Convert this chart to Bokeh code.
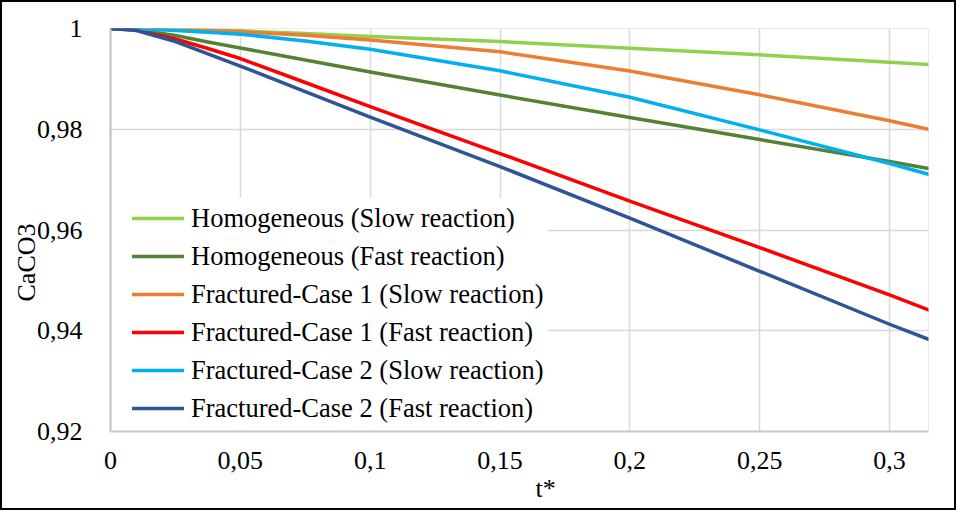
from bokeh.plotting import figure
from bokeh.models import Range1d, FixedTicker, CustomJSTickFormatter, Legend, LegendItem, BoxAnnotation, Title
from bokeh.embed import file_html
from bokeh.resources import INLINE

# ---- data ----
t = [0, 0.01, 0.025, 0.0375, 0.05, 0.075, 0.1, 0.15, 0.2, 0.25, 0.3, 0.315]
homog_slow = [1, 0.99999, 0.99988, 0.99972, 0.99954, 0.99901, 0.99841, 0.99742, 0.99607, 0.99478, 0.99329, 0.99285]
homog_fast = [1, 0.99976, 0.99861, 0.99732, 0.99613, 0.99374, 0.99136, 0.98679, 0.98232, 0.97796, 0.97359, 0.97220]
frac1_slow = [1, 0.99998, 0.99980, 0.99960, 0.99936, 0.99865, 0.99772, 0.99537, 0.99156, 0.98683, 0.98167, 0.98000]
frac1_fast = [1, 0.99968, 0.99791, 0.99603, 0.99404, 0.98928, 0.98451, 0.97518, 0.96574, 0.95651, 0.94711, 0.94413]
frac2_slow = [1, 0.99996, 0.99960, 0.99927, 0.99887, 0.99752, 0.99589, 0.99160, 0.98634, 0.97988, 0.97319, 0.97106]
frac2_fast = [1, 0.99960, 0.99742, 0.99494, 0.99255, 0.98749, 0.98242, 0.97259, 0.96234, 0.95181, 0.94129, 0.93831]

series_names = [
    "Homogeneous (Slow reaction)",
    "Homogeneous (Fast reaction)",
    "Fractured-Case 1 (Slow reaction)",
    "Fractured-Case 1 (Fast reaction)",
    "Fractured-Case 2 (Slow reaction)",
    "Fractured-Case 2 (Fast reaction)",
]
series_values = [homog_slow, homog_fast, frac1_slow, frac1_fast, frac2_slow, frac2_fast]
series_colors = ["#92D050", "#548235", "#ED7D31", "#FF0000", "#00B0F0", "#2F5597"]

x_ticks = [0, 0.05, 0.1, 0.15, 0.2, 0.25, 0.3]
y_ticks = [0.92, 0.94, 0.96, 0.98, 1.0]
x_label = "t*"
y_label = "CaCO3"

FONT = "'Liberation Serif'"
FS = "26px"

p = figure(width=956, height=510, output_backend="svg", toolbar_location=None,
           x_range=Range1d(0, 0.315), y_range=Range1d(0.92, 1.0),
           min_border_left=108, min_border_right=30, min_border_top=26, min_border_bottom=81)
p.styles = {"border": "2px solid #000000"}
p.background_fill_color = "white"
p.border_fill_color = "white"
p.outline_line_color = "#ececec"
p.outline_line_width = 1

fmt = CustomJSTickFormatter(code="""
var s = tick.toFixed(2).replace(/0+$/, '').replace(/\\.$/, '');
return s.replace('.', ',');
""")

for ax in (p.xaxis[0], p.yaxis[0]):
    ax.major_tick_line_color = None
    ax.minor_tick_line_color = None
    ax.major_label_text_font = FONT
    ax.major_label_text_font_size = FS
    ax.major_label_text_color = "#000000"
    ax.formatter = fmt

p.xaxis[0].ticker = FixedTicker(ticks=x_ticks)
p.yaxis[0].ticker = FixedTicker(ticks=y_ticks)
p.xaxis[0].axis_line_color = "#c8c8c8"
p.xaxis[0].axis_line_width = 2
p.yaxis[0].axis_line_color = "#bfbfbf"
p.yaxis[0].axis_line_width = 2
p.xaxis[0].major_label_standoff = 14
p.yaxis[0].major_label_standoff = 22

p.xgrid[0].ticker = FixedTicker(ticks=x_ticks)
p.ygrid[0].ticker = FixedTicker(ticks=y_ticks)
for g in (p.xgrid[0], p.ygrid[0]):
    g.grid_line_color = "#d9d9d9"
    g.grid_line_width = 1.5

# axis titles, placed off-centre as in the original
p.add_layout(Title(text=x_label, align="left", offset=425, standoff=0,
                   text_font=FONT, text_font_size=FS, text_font_style="normal",
                   text_color="#000000"), "below")
p.add_layout(Title(text=y_label, align="left", offset=130, standoff=-14,
                   text_font=FONT, text_font_size=FS, text_font_style="normal",
                   text_color="#000000"), "left")

# white backdrop behind the legend (hides gridlines like the original)
backdrop = BoxAnnotation(left=0, right=437, bottom=1, top=234,
                         left_units="screen", right_units="screen",
                         bottom_units="screen", top_units="screen",
                         fill_color="white", fill_alpha=1.0, line_alpha=0,
                         level="underlay", editable=False)
p.add_layout(backdrop)

items = []
for name, vals, col in zip(series_names, series_values, series_colors):
    r = p.line(t, vals, line_color=col, line_width=3.5, line_join="round", line_cap="round")
    items.append(LegendItem(label=name, renderers=[r]))

legend = Legend(items=items, location=(18, 0), padding=4, spacing=0, margin=0,
                glyph_width=52, glyph_height=38, label_height=38, label_standoff=7,
                label_text_font=FONT, label_text_font_size="26.5px", label_text_color="#000000",
                background_fill_alpha=0, border_line_alpha=0)
p.add_layout(legend)

open("out.html", "w").write(file_html(p, INLINE))
